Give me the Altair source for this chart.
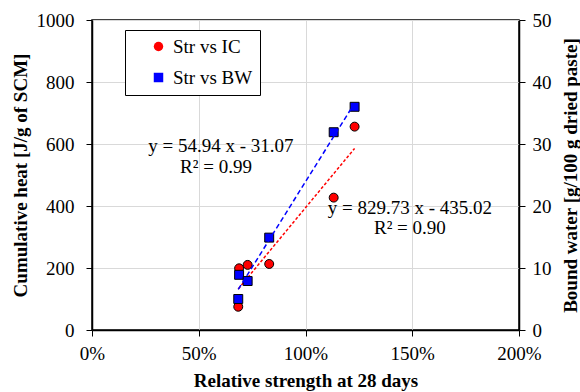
import altair as alt
import pandas as pd

# Data
strength = [0.685, 0.689, 0.729, 0.830, 1.132, 1.230]      # relative strength at 28 days
heat = [75, 199, 210, 213, 427, 656]                        # J/g of SCM (left axis)
bound_water = [5.0, 8.9, 7.9, 14.9, 31.9, 36.0]             # g/100 g dried paste (right axis)

series_names = ["Str vs IC", "Str vs BW"]
series_colors = ["#ff0000", "#0000ff"]
series_shapes = ["circle", "square"]

x_ticks = [0, 0.5, 1.0, 1.5, 2.0]
left_ticks = [0, 200, 400, 600, 800, 1000]
right_ticks = [0, 10, 20, 30, 40, 50]

eq_text = ["y = 54.94 x - 31.07", "R² = 0.99", "y = 829.73 x - 435.02", "R² = 0.90"]
eq_x = [0.604, 0.581, 1.489, 1.489]
eq_y = [593, 526, 394, 329]

df = pd.DataFrame({"strength": strength, "heat": heat, "bw": bound_water})
ann = pd.DataFrame({"label": eq_text, "strength": eq_x, "heat": eq_y})

FONT = "Liberation Serif"

legend = alt.Legend(
    title=None, orient="none", legendX=33, legendY=10,
    strokeColor="black", fillColor="white", padding=7,
    symbolOffset=17, labelOffset=5, rowPadding=11,
    labelFont=FONT, labelFontSize=19, labelColor="black",
    symbolStrokeColor="black", symbolStrokeWidth=1, symbolSize=90, symbolOpacity=1,
)
color = alt.Color("series:N", scale=alt.Scale(domain=series_names, range=series_colors), legend=legend)
shape = alt.Shape("series:N", scale=alt.Scale(domain=series_names, range=series_shapes), legend=legend)

x_enc = alt.X(
    "strength:Q",
    scale=alt.Scale(domain=[0, 2], nice=False, zero=True),
    axis=alt.Axis(values=x_ticks, format=".0%", title="Relative strength at 28 days",
                  grid=True, ticks=True, tickSize=6, labelPadding=8, titlePadding=8,
                  labelFlush=False),
)

y_left = alt.Y(
    "heat:Q",
    scale=alt.Scale(domain=[0, 1000], nice=False),
    axis=alt.Axis(values=left_ticks, format="d", title="Cumulative heat [J/g of SCM]", grid=True,
                  tickSize=6, labelPadding=12, titlePadding=6, labelFlush=False),
)
y_right = alt.Y(
    "bw:Q",
    scale=alt.Scale(domain=[0, 50], nice=False),
    axis=alt.Axis(values=right_ticks, format="d", orient="right",
                  title="Bound water [g/100 g dried paste]",
                  grid=False, tickSize=6, labelPadding=7, titlePadding=10, titleAngle=270,
                  titleBaseline="top", labelFlush=False),
)

base = alt.Chart(df)

red_pts = base.transform_calculate(series="'Str vs IC'").mark_point(
    filled=True, size=80, stroke="black", strokeWidth=1, opacity=1
).encode(x=x_enc, y=y_left, color=color, shape=shape)

red_line = base.transform_regression("strength", "heat").mark_line(
    color="#ff0000", strokeDash=[3, 2], strokeWidth=1.5
).encode(x=x_enc, y=y_left)

texts = alt.Chart(ann).mark_text(
    font=FONT, fontSize=19, color="black", align="center", baseline="middle"
).encode(x=x_enc, y=y_left, text="label:N")

blue_pts = base.transform_calculate(series="'Str vs BW'").mark_point(
    filled=True, size=80, stroke="black", strokeWidth=1, opacity=1
).encode(x=x_enc, y=y_right, color=color, shape=shape)

blue_line = base.transform_regression("strength", "bw").mark_line(
    color="#0000ff", strokeDash=[5, 3], strokeWidth=1.5
).encode(x=x_enc, y=y_right)

left = alt.layer(red_pts, red_line, texts)
right = alt.layer(blue_pts, blue_line)

chart = alt.layer(left, right).resolve_scale(y="independent").properties(
    width=427, height=310,
    padding={"left": 92, "top": 20, "right": 61, "bottom": 62},
    autosize=alt.AutoSizeParams(type="none"),
).configure(font=FONT).configure_view(
    stroke="black", strokeWidth=1.5
).configure_axis(
    labelFont=FONT, labelFontSize=19, labelColor="black",
    titleFont=FONT, titleFontSize=19, titleFontWeight="bold", titleColor="black",
    domainColor="black", domainWidth=1.5, tickColor="black", tickWidth=1,
    gridColor="#d9d9d9", gridWidth=1,
)

chart.save("out.html", embed_options={"renderer": "svg", "actions": False})
